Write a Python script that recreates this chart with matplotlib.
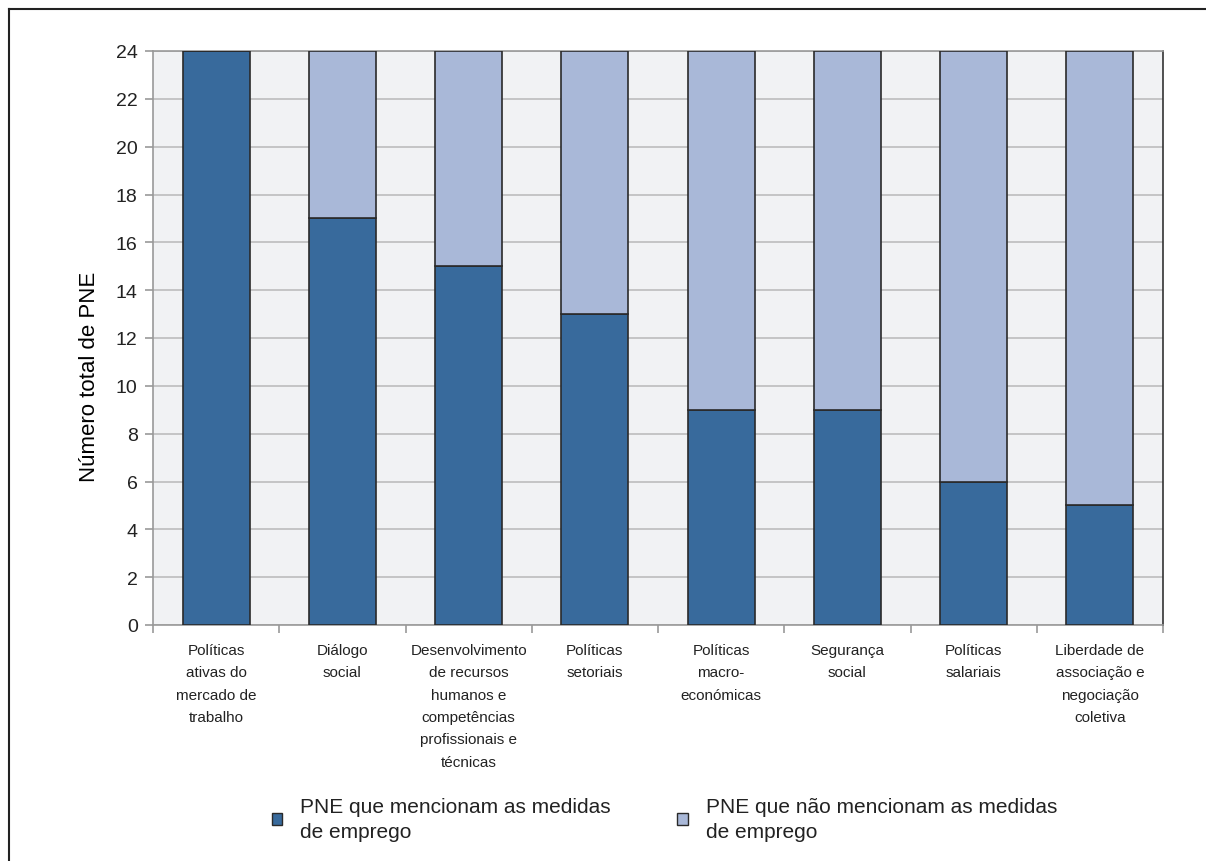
import matplotlib.pyplot as plt
import numpy as np
from matplotlib.lines import Line2D
from matplotlib.patches import Patch

plt.rcParams['font.family'] = ['Liberation Sans', 'DejaVu Sans']

categories = [
    "Políticas\nativas do\nmercado de\ntrabalho",
    "Diálogo\nsocial",
    "Desenvolvimento\nde recursos\nhumanos e\ncompetências\nprofissionais e\ntécnicas",
    "Políticas\nsetoriais",
    "Políticas\nmacro-\neconómicas",
    "Segurança\nsocial",
    "Políticas\nsalariais",
    "Liberdade de\nassociação e\nnegociação\ncoletiva",
]
mencionam = [24, 17, 15, 13, 9, 9, 6, 5]
nao_mencionam = [0, 7, 9, 11, 15, 15, 18, 19]
labels = ["PNE que mencionam as medidas\nde emprego", "PNE que não mencionam as medidas\nde emprego"]
yticks = list(range(0, 25, 2))

dark = "#386A9C"
light = "#A9B8D8"
edge = "#2a2a2a"

fig = plt.figure(figsize=(12.06, 8.62), dpi=100)
ax = fig.add_axes([153 / 1206, 1 - 626 / 862, (1163 - 153) / 1206, (626 - 52) / 862])
ax.set_facecolor("#F1F2F4")

x = np.arange(len(categories))
ax.bar(x, mencionam, width=0.53, color=dark, edgecolor=edge, linewidth=1.2, zorder=3)
ax.bar(x, nao_mencionam, width=0.53, bottom=mencionam, color=light, edgecolor=edge,
       linewidth=1.2, zorder=3)

ax.set_xlim(-0.5, len(categories) - 0.5)
ax.set_ylim(0, 24)
ax.set_yticks(yticks)
ax.yaxis.grid(True, color="#BDBDBD", linewidth=1.2, zorder=0)
ax.tick_params(axis="y", labelsize=14, length=6, color="#999999", width=1.2,
               labelcolor="#222222", pad=5)

ax.set_xticks(np.arange(len(categories) + 1) - 0.5, minor=True)
ax.set_xticks(x)
ax.set_xticklabels(categories, fontsize=11, color="#222222", linespacing=1.76, va="top")
ax.tick_params(axis="x", which="major", length=0, pad=13)
ax.tick_params(axis="x", which="minor", length=6, color="#999999", width=1.2)

for s in ["left", "bottom", "top"]:
    ax.spines[s].set_color("#999999")
    ax.spines[s].set_linewidth(1.2)
ax.spines["right"].set_color("#333333")
ax.spines["right"].set_linewidth(1.2)

ax.set_ylabel("Número total de PNE", fontsize=16, color="#000000")
ax.yaxis.set_label_coords((100 - 153) / 1010, (626 - 377) / 574)

handles = [Patch(facecolor=dark, edgecolor=edge), Patch(facecolor=light, edgecolor=edge)]
leg = fig.legend(handles, labels, loc="center left", bbox_to_anchor=(272 / 1206, 1 - 820 / 862),
                 ncol=2, frameon=False, fontsize=15, handlelength=0.5, handleheight=0.5,
                 handletextpad=0.85, columnspacing=3.2, borderpad=0, borderaxespad=0)
for t in leg.get_texts():
    t.set_color("#222222")
    t.set_linespacing(1.45)

# outer frame: only the left and top edges show in the reference
fig.add_artist(Line2D([9 / 1206, 9 / 1206], [0, 1 - 10 / 862], transform=fig.transFigure,
                      color="#222222", linewidth=1.5))
fig.add_artist(Line2D([9 / 1206, 1205 / 1206], [1 - 10 / 862, 1 - 10 / 862],
                      transform=fig.transFigure, color="#222222", linewidth=1.5))

fig.savefig("out.png", dpi=100)
